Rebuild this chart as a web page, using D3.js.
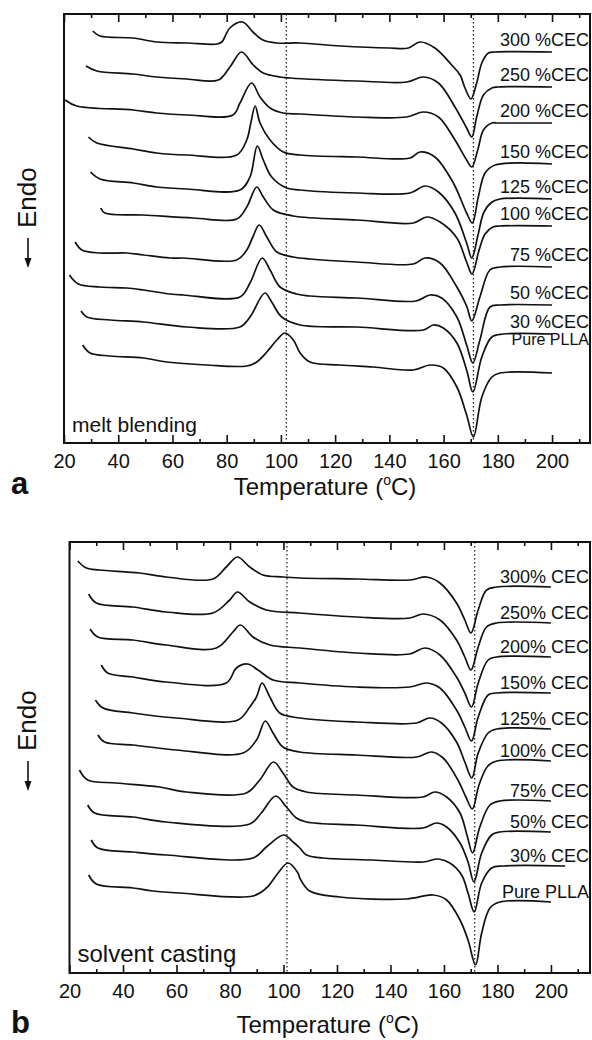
<!DOCTYPE html>
<html>
<head>
<meta charset="utf-8">
<script src="https://cdn.jsdelivr.net/npm/d3@7"></script>
<style>
  body { margin: 0; background: #fff; }
  svg { display: block; font-family: 'Liberation Sans', Arial, sans-serif; }
</style>
</head>
<body>
<div id="chart"></div>
<script>
// tick labels (temperature, °C)
const majorTicks = [20, 40, 60, 80, 100, 120, 140, 160, 180, 200]
const minorTicks = [30, 50, 70, 90, 110, 130, 150, 170, 190, 210]

// ---- (a) melt blending : [temperature °C, heat flow a.u.] ----
const meltLabels = ['300 %CEC', '250 %CEC', '200 %CEC', '150 %CEC', '125 %CEC', '100 %CEC', '75 %CEC', '50 %CEC', '30 %CEC', 'Pure PLLA']
const meltGuides = [102, 171]
const melt300 = [[30.6,412],[33.3,407],[45.5,405],[54.3,401],[65.4,400],[76.5,399],[78.2,401],[81.2,415],[85.8,421],[89.7,411],[93.4,403],[98.5,400],[107,400],[122,397],[140,395],[147,395],[151.3,401],[156.8,395],[163,378],[166.1,368],[167.9,355],[170.1,344],[172.2,360],[174.1,380],[176.5,390],[179,391],[200,391]]
const melt250 = [[28.1,377],[32.1,372],[45.5,369],[54.2,366],[65.3,364],[76.9,363],[81.2,376],[85.5,391],[89.8,378],[93.5,370],[99.7,366],[103.4,365],[128,362],[146.4,361],[152.5,366],[158.1,360],[164.2,336],[168.5,315],[170.4,306],[172.2,326],[174.7,348],[177.8,355],[180.2,356],[200,356]]
const melt200 = [[20.4,343],[24.7,337],[45.6,333],[54.2,330],[65.3,328],[82.3,328],[84.9,340],[89.2,360],[92.3,346],[96,335],[100.8,330],[107.1,329],[128,326],[146.4,326],[152.5,331],[158.1,326],[164.2,303],[168.5,283],[170.4,276],[172.6,293],[174.7,313],[177.8,320],[180.1,320],[200,320]]
const melt150 = [[29,306],[32.1,300],[45.6,294],[54.2,290],[65.3,288],[83.7,288],[87.4,303],[88.9,320],[90.5,337],[92.3,320],[96,303],[100.9,291],[107.1,288],[128,286],[147.6,285],[151.3,291],[156.8,286],[163.6,260],[168.5,230],[170.6,220],[172.8,246],[175.3,270],[179,278],[200,279]]
const melt125 = [[29.8,271],[33.3,264],[45.6,260],[54.2,256],[65.3,254],[84.9,253],[88.6,266],[91.3,297],[93.5,283],[96.6,266],[102.1,255],[107.1,253],[128,250],[147.6,250],[153.2,257],[158.1,251],[164.2,230],[168.5,200],[170.4,185],[172.7,208],[174.9,231],[177.9,241],[180.8,244],[200,244]]
const melt100 = [[33.5,235],[35.1,230],[49.3,228],[67.7,225],[83.7,224],[87.4,236],[91.1,256],[93.5,246],[97.2,233],[104.6,227],[128,223],[148.8,220],[153.8,226],[158.7,221],[164.9,205],[168.5,181],[170.5,169],[173.1,193],[175.3,209],[178.2,216],[180.8,217],[200,217]]
const melt75 = [[24.1,201],[26.6,193],[33.3,190],[43.1,190],[49.3,188],[59.1,185],[64,185],[83.7,183],[87.4,193],[89.8,207],[92,218],[94.8,206],[98.5,191],[104.6,186],[110.7,184],[128,181],[148.8,179],[153.2,185],[158.7,180],[164.9,156],[168.5,137],[170.4,122],[173.4,146],[177.1,173],[180.8,176],[200,176]]
const melt50 = [[22,168],[25.3,159],[33.3,156],[43.1,155],[49.3,153],[59.1,149],[64,148],[84.9,146],[88.6,160],[93.1,185],[96,173],[99.7,156],[105.8,149],[110.7,147],[128,145],[149.8,142],[155,148],[159.3,145],[164.9,126],[168.5,98],[170.8,80],[173.4,103],[177.1,136],[180.8,138],[200,138]]
const melt30 = [[26.3,132],[28.4,126],[37,123],[49.3,121],[65.3,116],[84.9,116],[88.6,126],[94.1,150],[96.6,141],[100.3,126],[107.1,118],[128,116],[152.5,113],[156.2,118],[159.9,115],[164.9,100],[168.5,73],[170.8,51],[174.1,86],[177.8,106],[182,109],[200,109]]
const meltPure = [[26.9,98],[29.6,90],[37,87],[49.3,85],[57.9,81],[72.6,78],[87.4,77],[91.1,81],[94.8,91],[98.5,103],[101.5,110],[104.6,103],[107.1,90],[110.7,81],[121.8,78],[134.1,76],[148.8,73],[155,78],[159.9,75],[164.9,56],[168.5,28],[171,6],[174.1,46],[177.8,66],[180.8,70],[200,70]]

// ---- (b) solvent casting ----
const solventLabels = ['300% CEC', '250% CEC', '200% CEC', '150% CEC', '125% CEC', '100% CEC', '75% CEC', '50% CEC', '30% CEC', 'Pure PLLA']
const solventGuides = [101.3, 171.5]
const solvent300 = [[23.1,412],[26.3,405],[31.2,403],[46.2,400],[56.2,396],[73.6,394],[78.6,406],[82.8,416],[87.4,406],[92.3,398],[99.8,396],[106.1,395],[127.3,394],[147.2,393],[153.5,396],[158.5,390],[164.7,370],[167.8,353],[170.1,340],[172.8,363],[175.9,383],[179.7,386],[200,386]]
const solvent250 = [[27.2,379],[30,370],[43.7,366],[56.2,361],[73.6,360],[79.9,373],[82.8,381],[87.4,371],[93.6,363],[106.1,360],[127.3,356],[147.2,355],[152.2,359],[158.5,353],[164.7,333],[167.8,316],[170.1,303],[172.8,326],[175.9,346],[179.7,350],[200,350]]
const solvent200 = [[27.7,344],[30.6,336],[43.7,333],[56.2,328],[74.9,325],[81.1,341],[83.9,348],[88.6,336],[94.9,328],[106.1,325],[127.3,320],[147.2,319],[152.9,325],[158.5,318],[164.7,296],[167.8,280],[170.3,266],[172.8,290],[176.5,313],[179.7,316],[200,316]]
const solvent150 = [[31.9,308],[34.3,300],[43.7,296],[56.2,291],[78.6,290],[82.4,305],[86.5,309],[90.5,303],[96.1,293],[106.1,290],[127.3,286],[147.2,286],[153.5,290],[158.5,285],[164.7,263],[167.8,246],[170.3,232],[172.8,256],[176.5,278],[179.7,280],[200,280]]
const solvent125 = [[29.7,273],[32.5,265],[43.7,260],[59.9,255],[83,253],[87.4,266],[89.9,276],[92,290],[94.9,276],[98.6,260],[106.1,255],[127.3,251],[149.8,250],[154.7,255],[159.1,250],[164.7,231],[167.8,211],[170.4,195],[172.8,220],[176.5,240],[179.7,244],[200,244]]
const solvent100 = [[30.6,238],[33.1,231],[43.7,228],[59.9,223],[84.9,220],[89.9,233],[93.2,252],[96.1,240],[99.8,226],[106.1,221],[127.3,218],[149.8,216],[155.4,221],[159.7,215],[165.2,193],[168.2,176],[170.6,164],[173.1,188],[176.4,207],[179.8,212],[200,212]]
const solvent75 = [[23.7,203],[26.8,193],[37.5,190],[53.7,186],[63.7,181],[86.1,180],[91.1,193],[96.3,211],[99.8,200],[103.6,186],[108.6,181],[127.3,178],[152.2,176],[156.6,181],[161,176],[166,160],[168.6,138],[170.7,120],[173.4,146],[177.2,168],[180.9,172],[200,172]]
const solvent50 = [[26.8,168],[29.4,160],[43.7,156],[56.2,151],[87.4,149],[91.7,160],[97.1,177],[101.1,166],[104.8,155],[108.6,151],[127.3,148],[152.2,145],[157.2,150],[161,146],[166,130],[169,111],[171.2,91],[174.1,120],[177.8,138],[180.9,141],[200,141]]
const solvent30 = [[28.1,133],[30.6,125],[43.7,121],[56.2,118],[88.6,115],[93.6,126],[100.1,138],[103.6,131],[106.1,125],[108.6,118],[114.8,115],[133.5,113],[152.2,111],[157.8,114],[162.2,110],[166.6,98],[169,80],[171.3,61],[174.1,90],[177.8,105],[182.2,107],[205.3,107]]
const solventPure = [[27.2,98],[30,89],[43.7,85],[51.2,82],[61.2,80],[88.6,77],[93.6,85],[98,100],[101.7,110],[105.4,100],[106.1,95],[109.8,82],[121,76],[146,74],[156,78],[161,73],[166,53],[169,33],[171.8,8],[174.1,40],[177.2,65],[180.9,71],[200,71]]

const meltSeries = [melt300, melt250, melt200, melt150, melt125, melt100, melt75, melt50, melt30, meltPure]
const solventSeries = [solvent300, solvent250, solvent200, solvent150, solvent125, solvent100, solvent75, solvent50, solvent30, solventPure]

const svg = d3.select('#chart').append('svg')
  .attr('width', 592).attr('height', 1040)

function panel (cfg) {
  const x = d3.scaleLinear().domain(cfg.xDomain).range([cfg.left, cfg.right])
  const y = d3.scaleLinear().domain(cfg.yDomain).range([cfg.bottom, cfg.top])
  const g = svg.append('g')

  // dotted reference lines
  g.selectAll('.guide').data(cfg.guides).enter().append('line')
    .attr('class', 'guide')
    .attr('x1', d => x(d)).attr('x2', d => x(d))
    .attr('y1', cfg.top).attr('y2', cfg.bottom)
    .attr('stroke', '#222').attr('stroke-width', 1.3)
    .attr('stroke-dasharray', '1.5,2.5')

  // DSC traces
  const line = d3.line()
    .x(d => x(d[0])).y(d => y(d[1]))
    .curve(d3.curveCatmullRom.alpha(0.5))
  g.selectAll('.trace').data(cfg.series).enter().append('path')
    .attr('class', 'trace')
    .attr('d', line)
    .attr('fill', 'none').attr('stroke', '#111').attr('stroke-width', 1.7)
    .attr('stroke-linejoin', 'round')

  // series labels above the end of each trace
  g.selectAll('.lab').data(cfg.series).enter().append('text')
    .attr('class', 'lab')
    .attr('x', cfg.right - 1)
    .attr('y', (d, i) => y(d[d.length - 1][1]) - (cfg.lift[i] || cfg.liftDefault))
    .attr('text-anchor', 'end')
    .attr('font-size', (d, i) => (cfg.labelSize[i] || 18) + 'px')
    .attr('fill', '#111')
    .text((d, i) => cfg.labels[i])

  // axes: major + minor ticks on bottom and top, pointing inside
  const bottomMajor = d3.axisBottom(x).tickValues(majorTicks)
    .tickSize(-8).tickPadding(11).tickFormat(d3.format('d'))
  const bottomMinor = d3.axisBottom(x).tickValues(minorTicks).tickSize(-4).tickFormat('')
  const topMajor = d3.axisTop(x).tickValues(majorTicks).tickSize(-8).tickFormat('')
  const topMinor = d3.axisTop(x).tickValues(minorTicks).tickSize(-4).tickFormat('')

  const gb = g.append('g').attr('transform', 'translate(0,' + cfg.bottom + ')').call(bottomMajor)
  g.append('g').attr('transform', 'translate(0,' + cfg.bottom + ')').call(bottomMinor)
  g.append('g').attr('transform', 'translate(0,' + cfg.top + ')').call(topMajor)
  g.append('g').attr('transform', 'translate(0,' + cfg.top + ')').call(topMinor)
  g.selectAll('.domain').remove()
  g.selectAll('.tick line').attr('stroke', '#111').attr('stroke-width', 1.6)
  gb.selectAll('text').attr('font-size', '20px').attr('fill', '#111')
    .attr('font-family', "'Liberation Sans', Arial, sans-serif")

  // frame
  g.append('rect')
    .attr('x', cfg.left).attr('y', cfg.top)
    .attr('width', cfg.right - cfg.left).attr('height', cfg.bottom - cfg.top)
    .attr('fill', 'none').attr('stroke', '#111').attr('stroke-width', 2)

  // method note inside the frame
  g.append('text')
    .attr('x', cfg.left + 8).attr('y', cfg.bottom - 11)
    .attr('font-size', cfg.noteSize + 'px').attr('fill', '#111')
    .text(cfg.note)

  // y label: "Endo" with a long arrow pointing down
  g.append('text')
    .attr('transform', 'translate(' + (cfg.endoX + 8) + ',' + cfg.endoY + ') rotate(-90)')
    .attr('text-anchor', 'start')
    .attr('font-size', '26px').attr('fill', '#111')
    .text('Endo')
  g.append('line')
    .attr('x1', cfg.endoX).attr('x2', cfg.endoX)
    .attr('y1', cfg.endoY + 10).attr('y2', cfg.endoY + 38)
    .attr('stroke', '#111').attr('stroke-width', 1.6)
  g.append('path')
    .attr('d', 'M' + (cfg.endoX - 3.5) + ',' + (cfg.endoY + 30) + 'L' + cfg.endoX + ',' + (cfg.endoY + 40) + 'L' + (cfg.endoX + 3.5) + ',' + (cfg.endoY + 30) + 'Z')
    .attr('fill', '#111')

  // x title
  const t = g.append('text')
    .attr('x', (cfg.left + cfg.right) / 2 - 2).attr('y', cfg.titleY)
    .attr('text-anchor', 'middle').attr('font-size', '24px').attr('fill', '#111')
  t.append('tspan').text('Temperature (')
  t.append('tspan').attr('font-size', '14px').attr('dy', -10).text('o')
  t.append('tspan').attr('dy', 10).text('C)')

  // panel letter
  g.append('text')
    .attr('x', 11).attr('y', cfg.letterY)
    .attr('font-size', '31px').attr('font-weight', 'bold').attr('fill', '#111')
    .text(cfg.letter)
}

panel({
  left: 64, right: 590, top: 14, bottom: 443,
  xDomain: [20, 214], yDomain: [0, 429],
  series: meltSeries, labels: meltLabels, guides: meltGuides,
  lift: { 9: 28 }, liftDefault: 6, labelSize: { 9: 16 },
  note: 'melt blending', noteSize: 21,
  endoX: 28, endoY: 228, titleY: 495, letter: 'a', letterY: 494
})

panel({
  left: 69.5, right: 590, top: 542, bottom: 973,
  xDomain: [20, 214.6], yDomain: [0, 431],
  series: solventSeries, labels: solventLabels, guides: solventGuides,
  lift: {}, liftDefault: 4, labelSize: {},
  note: 'solvent casting', noteSize: 24,
  endoX: 28, endoY: 751, titleY: 1033, letter: 'b', letterY: 1033
})
</script>
</body>
</html>
